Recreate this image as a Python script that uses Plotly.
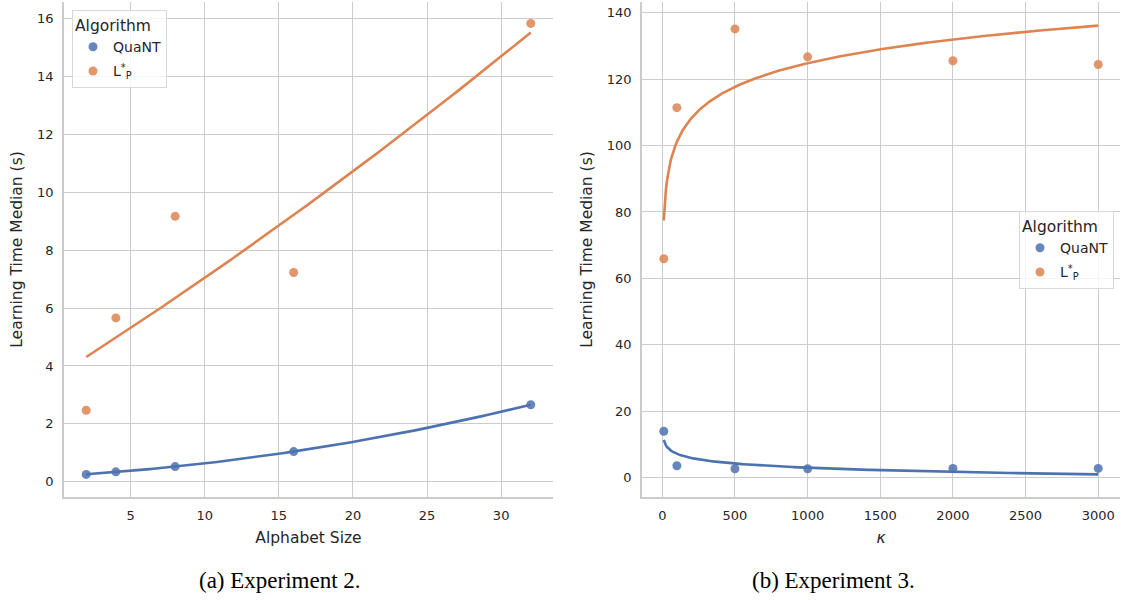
import numpy as np
import plotly.graph_objects as go

# ---------------- data ----------------
alphabet_size = [2, 4, 8, 16, 32]
quant_exp2 = [0.25, 0.34, 0.52, 1.04, 2.66]
lp_exp2 = [2.47, 5.66, 9.17, 7.23, 15.84]

kappa = [10, 100, 500, 1000, 2000, 3000]
quant_exp3 = [14.0, 3.6, 2.7, 2.7, 2.8, 2.8]
lp_exp3 = [65.9, 111.4, 135.1, 126.7, 125.5, 124.4]

series_names = ["QuaNT", "L<sup>*</sup><sub>P</sub>"]
captions = ["(a) Experiment 2.", "(b) Experiment 3."]

BLUE = "#4C72B0"
ORANGE = "#DD8452"
GRID = "#cccccc"
TXT = "#262626"
FONT = "DejaVu Sans"

W, H = 1125, 600
def px(x):
    return x / W
def py(y):
    return 1 - y / H

# regression fits (as seaborn regplot: order=2 on left, logx on right)
def poly_fit(x, y, order, n=120):
    c = np.polyfit(x, y, order)
    xs = np.linspace(min(x), max(x), n)
    return xs, np.polyval(c, xs)

def logx_fit(x, y, n=400):
    c = np.polyfit(np.log(x), y, 1)
    xs = np.linspace(min(x), max(x), n)
    return xs, np.polyval(c, np.log(xs))

fig = go.Figure()

# ---- left panel ----
for ys, col, name in [(quant_exp2, BLUE, series_names[0]), (lp_exp2, ORANGE, series_names[1])]:
    fx, fy = poly_fit(alphabet_size, ys, 2)
    fig.add_trace(go.Scatter(x=fx, y=fy, mode="lines", line=dict(color=col, width=2.6),
                             showlegend=False, hoverinfo="skip", xaxis="x", yaxis="y"))
    fig.add_trace(go.Scatter(x=alphabet_size, y=ys, mode="markers", name=name,
                             marker=dict(color=col, size=9, opacity=0.85),
                             legend="legend", legendgroup="a" + name, xaxis="x", yaxis="y"))

# ---- right panel ----
for ys, col, name in [(quant_exp3, BLUE, series_names[0]), (lp_exp3, ORANGE, series_names[1])]:
    fx, fy = logx_fit(kappa, ys)
    fig.add_trace(go.Scatter(x=fx, y=fy, mode="lines", line=dict(color=col, width=2.6),
                             showlegend=False, hoverinfo="skip", xaxis="x2", yaxis="y2"))
    fig.add_trace(go.Scatter(x=kappa, y=ys, mode="markers", name=name,
                             marker=dict(color=col, size=9, opacity=0.85),
                             legend="legend2", legendgroup="b" + name, xaxis="x2", yaxis="y2"))

axis_common = dict(showgrid=True, gridcolor=GRID, gridwidth=1.2, zeroline=False,
                   showline=True, linecolor=GRID, linewidth=1.5, ticks="",
                   automargin=False, ticklabeloverflow="allow",
                   tickfont=dict(family=FONT, size=13, color=TXT))
ydom = [py(497), py(2)]

fig.update_layout(
    width=W, height=H,
    margin=dict(l=0, r=0, t=0, b=0),
    paper_bgcolor="white", plot_bgcolor="white",
    font=dict(family=FONT, color=TXT),
    xaxis=dict(axis_common, domain=[px(64), px(553)], range=[0.5, 33.5],
               tickvals=[5, 10, 15, 20, 25, 30], anchor="y", ticklabelstandoff=6,
               title=dict(text="Alphabet Size", font=dict(size=15.5, color=TXT), standoff=10)),
    yaxis=dict(axis_common, domain=ydom, range=[-0.53, 16.58],
               tickvals=list(range(0, 17, 2)), anchor="x", ticklabelstandoff=6,
               title=dict(text="Learning Time Median (s)", font=dict(size=15.5, color=TXT), standoff=11)),
    xaxis2=dict(axis_common, domain=[px(642), px(1120)], range=[-140, 3150],
                tickvals=list(range(0, 3001, 500)), anchor="y2", ticklabelstandoff=6,
                title=dict(text="<i>κ</i>", font=dict(size=15.5, color=TXT), standoff=10)),
    yaxis2=dict(axis_common, domain=ydom, range=[-5.8, 143.2],
                tickvals=list(range(0, 141, 20)), anchor="x2", ticklabelstandoff=6,
                title=dict(text="Learning Time Median (s)", font=dict(size=15.5, color=TXT), standoff=10)),
    legend=dict(title=dict(text="Algorithm", font=dict(size=15.5, color=TXT)),
                x=px(72), y=py(10), xanchor="left", yanchor="top",
                bordercolor="#d9d9d9", borderwidth=1, bgcolor="rgba(255,255,255,0.8)",
                font=dict(size=14, color=TXT), traceorder="grouped", tracegroupgap=3),
    legend2=dict(title=dict(text="Algorithm", font=dict(size=15.5, color=TXT)),
                 x=px(1114), y=py(211), xanchor="right", yanchor="top",
                 bordercolor="#d9d9d9", borderwidth=1, bgcolor="rgba(255,255,255,0.8)",
                 font=dict(size=14, color=TXT), traceorder="grouped", tracegroupgap=3),
)

for txt, cx in zip(captions, [280, 833]):
    fig.add_annotation(text=txt, x=px(cx), y=py(580), xref="paper", yref="paper",
                       showarrow=False, xanchor="center", yanchor="middle",
                       font=dict(family="Liberation Serif", size=23, color="black"))

fig.write_html("out.html", config={"displayModeBar": False},
               post_script="document.body.style.margin='0px';document.body.style.overflow='hidden';")
